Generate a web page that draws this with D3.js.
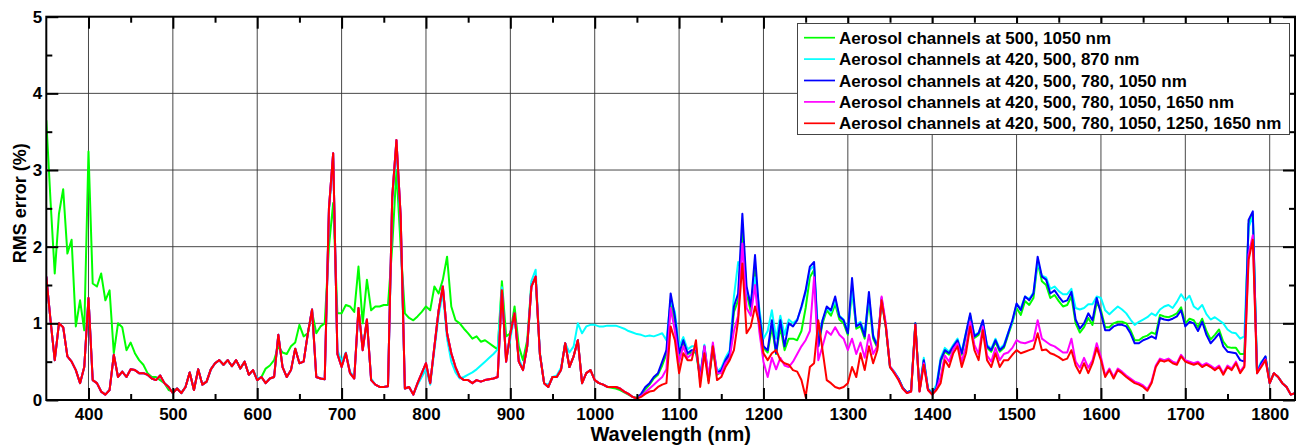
<!DOCTYPE html>
<html>
<head>
<meta charset="utf-8">
<script src="https://cdn.jsdelivr.net/npm/d3@7"></script>
<style>
  body { margin: 0; background: #fff; }
  svg { display: block; }
  text { font-family: "Liberation Sans", Arial, Helvetica, sans-serif; }
</style>
</head>
<body>
<svg id="chart" width="1300" height="445"></svg>
<script>
// Wavelength sampling (nm)
const wavelengths = [
  350,355,360,365,370,375,380,385,390,395, 400,405,410,415,420,425,430,435,440,445,
  450,455,460,465,470,475,480,485,490,495, 500,505,510,515,520,525,530,535,540,545,
  550,555,560,565,570,575,580,585,590,595, 600,605,610,615,620,625,630,635,640,645,
  650,655,660,665,670,675,680,685,690,695, 700,705,710,715,720,725,730,735,740,745,
  750,755,760,765,770,775,780,785,790,795, 800,805,810,815,820,825,830,835,840,845,
  850,855,860,865,870,875,880,885,890,895, 900,905,910,915,920,925,930,935,940,945,
  950,955,960,965,970,975,980,985,990,995, 1000,1005,1010,1015,1020,1025,1030,1035,1040,1045,
  1050,1055,1060,1065,1070,1075,1080,1085,1090,1095, 1100,1105,1110,1115,1120,1125,1130,1135,1140,1145,
  1150,1155,1160,1165,1170,1175,1180,1185,1190,1195, 1200,1205,1210,1215,1220,1225,1230,1235,1240,1245,
  1250,1255,1260,1265,1270,1275,1280,1285,1290,1295, 1300,1305,1310,1315,1320,1325,1330,1335,1340,1345,
  1350,1355,1360,1365,1370,1375,1380,1385,1390,1395, 1400,1405,1410,1415,1420,1425,1430,1435,1440,1445,
  1450,1455,1460,1465,1470,1475,1480,1485,1490,1495, 1500,1505,1510,1515,1520,1525,1530,1535,1540,1545,
  1550,1555,1560,1565,1570,1575,1580,1585,1590,1595, 1600,1605,1610,1615,1620,1625,1630,1635,1640,1645,
  1650,1655,1660,1665,1670,1675,1680,1685,1690,1695, 1700,1705,1710,1715,1720,1725,1730,1735,1740,1745,
  1750,1755,1760,1765,1770,1775,1780,1785,1790,1795, 1800,1805,1810,1815,1820,1825,1830
];

// RMS error (%) — aerosol channels at 500, 1050 nm
const rms500_1050 = [
  3.65,2.6,1.65,2.43,2.75,1.91,2.09,0.96,1.3,0.91, 3.24,1.52,1.48,1.65,1.3,1.43,0.61,1.0,0.95,0.65,
  0.75,0.61,0.52,0.46,0.35,0.3,0.3,0.26,0.22,0.13, 0.11,0.15,0.09,0.17,0.36,0.13,0.4,0.2,0.24,0.4,
  0.48,0.52,0.46,0.52,0.44,0.52,0.41,0.5,0.33,0.39, 0.26,0.3,0.41,0.45,0.52,0.7,0.62,0.6,0.7,0.75,
  0.98,0.83,0.87,1.15,0.87,0.96,1.0,2.0,2.57,1.13, 1.13,1.24,1.22,1.15,1.74,1.0,1.57,1.17,1.22,1.22,
  1.24,1.24,2.0,3.0,2.0,1.13,1.07,1.04,1.09,1.15, 1.22,1.17,1.48,1.39,1.57,1.87,1.22,1.04,1.0,0.93,
  0.87,0.8,0.83,0.76,0.78,0.74,0.7,0.66,1.55,0.83, 0.87,1.22,0.7,0.52,0.78,1.52,1.57,0.6,0.22,0.17,
  0.3,0.3,0.39,0.74,0.43,0.57,0.78,0.22,0.35,0.39, 0.26,0.22,0.2,0.17,0.16,0.15,0.13,0.1,0.07,0.04,
  0.03,0.06,0.14,0.2,0.28,0.33,0.45,0.6,1.3,1.0, 0.58,0.75,0.6,0.62,0.62,0.28,0.68,0.25,0.68,0.33,
  0.37,0.5,0.58,1.15,1.3,2.2,1.4,1.15,1.7,1.05, 0.68,0.62,0.95,0.6,0.95,0.65,0.8,0.8,0.78,0.9,
  1.2,1.6,1.7,0.7,1.0,1.17,1.1,1.25,1.05,1.0, 0.85,1.45,0.93,0.96,0.8,1.3,0.8,0.68,1.3,0.95,
  0.43,0.36,0.28,0.16,0.1,0.12,1.0,0.12,0.52,0.14, 0.08,0.15,0.5,0.63,0.59,0.68,0.76,0.59,0.85,1.1,
  0.81,0.85,1.01,0.68,0.63,0.76,0.63,0.68,0.85,1.01, 1.2,1.11,1.29,1.24,1.33,1.8,1.55,1.5,1.33,1.37,
  1.29,1.22,1.24,1.35,1.0,0.88,0.95,1.07,0.98,1.27, 1.17,0.95,0.95,1.0,1.02,1.02,1.0,0.91,0.78,0.78,
  0.82,0.84,0.88,0.86,1.11,1.09,1.08,1.1,1.13,1.21, 1.0,1.06,1.04,0.95,1.06,0.9,0.79,0.85,0.92,0.76,
  0.69,0.68,0.68,0.6,0.6,2.3,2.42,0.36,0.48,0.56, 0.22,0.35,0.3,0.22,0.17,0.07,0.09
];

// RMS error (%) — aerosol channels at 420, 500, 870 nm
const rms420_500_870 = [
  1.61,1.04,0.52,1.0,0.95,0.57,0.5,0.39,0.22,0.43, 1.33,0.26,0.22,0.11,0.07,0.13,0.59,0.3,0.37,0.3,
  0.4,0.39,0.35,0.35,0.33,0.28,0.26,0.32,0.22,0.17, 0.09,0.15,0.09,0.17,0.36,0.13,0.4,0.2,0.24,0.4,
  0.48,0.52,0.46,0.52,0.44,0.52,0.41,0.5,0.33,0.39, 0.28,0.3,0.22,0.28,0.3,0.85,0.43,0.3,0.39,0.67,
  0.48,0.5,0.87,1.18,0.3,0.28,0.27,2.45,3.15,0.65, 0.5,0.62,0.37,0.3,1.15,0.72,1.0,0.28,0.2,0.17,
  0.17,0.18,2.6,3.3,2.3,0.15,0.17,0.07,0.2,0.3, 0.4,0.2,0.65,1.1,1.4,0.8,0.5,0.36,0.28,0.3,
  0.33,0.36,0.4,0.45,0.5,0.55,0.6,0.66,1.47,0.55, 0.8,1.1,0.55,0.4,0.7,1.55,1.7,0.62,0.22,0.2,
  0.3,0.32,0.42,0.74,0.62,0.7,1.0,0.87,0.96,0.98, 0.98,0.96,0.96,0.97,0.97,0.97,0.95,0.93,0.9,0.88,
  0.86,0.85,0.83,0.84,0.83,0.85,0.87,0.78,1.3,1.15, 0.7,0.82,0.66,0.7,0.7,0.32,0.72,0.28,0.72,0.37,
  0.42,0.55,0.65,1.35,1.8,1.7,1.4,1.3,1.6,1.2, 0.8,0.9,1.17,0.8,1.1,0.85,1.05,1.0,1.05,1.2,
  1.4,1.7,1.75,0.85,1.04,1.2,1.15,1.3,1.1,1.05, 0.9,1.45,0.98,1.02,0.88,1.35,0.85,0.72,1.3,0.97,
  0.44,0.37,0.28,0.16,0.1,0.12,0.98,0.12,0.55,0.15, 0.1,0.2,0.55,0.68,0.63,0.72,0.8,0.63,0.88,1.1,
  0.85,0.88,1.02,0.72,0.67,0.8,0.67,0.72,0.88,1.02, 1.25,1.2,1.35,1.32,1.4,1.8,1.62,1.6,1.45,1.48,
  1.42,1.38,1.38,1.45,1.2,1.18,1.2,1.25,1.25,1.35, 1.33,1.17,1.12,1.17,1.22,1.18,1.13,1.05,0.98,1.02,
  1.05,1.08,1.13,1.1,1.18,1.22,1.24,1.2,1.28,1.38, 1.3,1.36,1.22,1.18,1.24,1.12,1.05,1.08,1.04,1.0,
  0.92,0.88,0.87,0.8,0.83,2.25,2.4,0.38,0.5,0.56, 0.22,0.35,0.3,0.22,0.17,0.07,0.09
];

// RMS error (%) — aerosol channels at 420, 500, 780, 1050 nm
const rms420_500_780_1050 = [
  1.61,1.04,0.52,1.0,0.95,0.57,0.5,0.39,0.22,0.43, 1.33,0.26,0.22,0.11,0.07,0.13,0.59,0.3,0.37,0.3,
  0.4,0.39,0.35,0.35,0.33,0.28,0.26,0.32,0.22,0.17, 0.09,0.15,0.09,0.17,0.36,0.13,0.4,0.2,0.24,0.4,
  0.48,0.52,0.46,0.52,0.44,0.52,0.41,0.5,0.33,0.39, 0.26,0.3,0.22,0.28,0.3,0.85,0.43,0.3,0.39,0.67,
  0.48,0.5,0.87,1.18,0.3,0.28,0.27,2.5,3.22,0.6, 0.43,0.61,0.35,0.28,1.2,0.65,1.05,0.26,0.2,0.17,
  0.17,0.18,2.65,3.39,2.4,0.15,0.17,0.07,0.22,0.35, 0.48,0.22,0.7,1.17,1.48,0.87,0.61,0.43,0.3,0.26,
  0.26,0.22,0.26,0.24,0.26,0.27,0.28,0.3,1.43,0.5, 0.87,1.13,0.5,0.39,0.7,1.48,1.61,0.6,0.22,0.17,
  0.3,0.3,0.39,0.74,0.43,0.57,0.78,0.22,0.35,0.39, 0.26,0.22,0.2,0.17,0.17,0.17,0.15,0.11,0.08,0.04,
  0.02,0.08,0.17,0.22,0.3,0.35,0.5,0.65,1.39,1.09, 0.61,0.78,0.61,0.65,0.65,0.3,0.7,0.26,0.7,0.35,
  0.39,0.52,0.61,1.22,1.39,2.43,1.48,1.22,1.89,1.13, 0.7,0.65,1.04,0.61,1.04,0.7,1.0,0.96,1.04,1.22,
  1.43,1.74,1.8,0.7,1.04,1.22,1.17,1.35,1.09,1.04, 0.87,1.59,0.96,1.0,0.83,1.41,0.83,0.7,1.33,0.96,
  0.43,0.36,0.28,0.16,0.1,0.12,1.0,0.12,0.52,0.14, 0.08,0.16,0.52,0.65,0.61,0.7,0.78,0.61,0.87,1.13,
  0.83,0.87,1.04,0.7,0.65,0.78,0.65,0.7,0.87,1.04, 1.26,1.17,1.35,1.3,1.39,1.87,1.61,1.57,1.39,1.43,
  1.35,1.28,1.3,1.41,1.05,0.93,1.0,1.13,1.04,1.33, 1.13,0.91,0.91,0.96,0.98,0.98,0.96,0.87,0.74,0.74,
  0.78,0.8,0.83,0.8,1.07,1.05,1.04,1.06,1.09,1.17, 0.96,1.02,1.0,0.9,1.02,0.85,0.74,0.8,0.87,0.7,
  0.63,0.62,0.61,0.52,0.5,2.35,2.46,0.35,0.48,0.57, 0.22,0.35,0.3,0.22,0.17,0.07,0.09
];

// RMS error (%) — aerosol channels at 420, 500, 780, 1050, 1650 nm
const rms420_500_780_1050_1650 = [
  1.61,1.04,0.52,1.0,0.95,0.57,0.5,0.39,0.22,0.43, 1.33,0.26,0.22,0.11,0.07,0.13,0.59,0.3,0.37,0.3,
  0.4,0.39,0.35,0.35,0.33,0.28,0.26,0.32,0.22,0.17, 0.09,0.15,0.09,0.17,0.36,0.13,0.4,0.2,0.24,0.4,
  0.48,0.52,0.46,0.52,0.44,0.52,0.41,0.5,0.33,0.39, 0.26,0.3,0.22,0.28,0.3,0.85,0.43,0.3,0.39,0.67,
  0.48,0.5,0.87,1.18,0.3,0.28,0.27,2.5,3.22,0.6, 0.43,0.61,0.35,0.28,1.2,0.65,1.05,0.26,0.2,0.17,
  0.17,0.18,2.65,3.39,2.4,0.15,0.17,0.07,0.22,0.35, 0.48,0.22,0.7,1.17,1.48,0.87,0.61,0.43,0.3,0.26,
  0.26,0.22,0.26,0.24,0.26,0.27,0.28,0.3,1.43,0.5, 0.87,1.13,0.5,0.39,0.7,1.48,1.61,0.6,0.22,0.17,
  0.3,0.3,0.39,0.74,0.43,0.57,0.78,0.22,0.35,0.39, 0.26,0.22,0.2,0.17,0.17,0.17,0.15,0.11,0.08,0.04,
  0.02,0.05,0.1,0.15,0.2,0.25,0.3,0.4,1.2,0.9, 0.5,0.7,0.55,0.6,0.7,0.25,0.7,0.3,0.75,0.35,
  0.35,0.48,0.55,0.9,1.1,2.04,1.2,1.1,1.5,0.9, 0.5,0.3,0.55,0.4,0.55,0.45,0.43,0.5,0.6,0.7,
  0.78,0.9,1.6,0.52,0.7,0.9,0.85,0.95,0.85,0.8, 0.65,0.8,0.6,0.75,0.55,0.85,0.6,0.7,1.35,1.0,
  0.44,0.36,0.27,0.15,0.09,0.11,0.98,0.11,0.48,0.13, 0.07,0.14,0.3,0.58,0.5,0.66,0.74,0.5,0.7,1.02,
  0.72,0.6,0.96,0.58,0.5,0.68,0.52,0.6,0.62,0.68, 0.78,0.75,0.74,0.76,0.78,1.04,0.8,0.76,0.72,0.7,
  0.66,0.62,0.62,0.8,0.5,0.42,0.55,0.42,0.52,0.74, 0.56,0.32,0.41,0.3,0.41,0.37,0.32,0.28,0.24,0.22,
  0.19,0.14,0.24,0.45,0.54,0.52,0.54,0.5,0.48,0.59, 0.52,0.5,0.48,0.5,0.45,0.48,0.45,0.41,0.45,0.35,
  0.45,0.41,0.5,0.37,0.45,1.9,2.15,0.35,0.45,0.53, 0.22,0.35,0.3,0.22,0.17,0.07,0.09
];

// RMS error (%) — aerosol channels at 420, 500, 780, 1050, 1250, 1650 nm
const rms420_500_780_1050_1250_1650 = [
  1.61,1.04,0.52,1.0,0.95,0.57,0.5,0.39,0.22,0.43, 1.33,0.26,0.22,0.11,0.07,0.13,0.59,0.3,0.37,0.3,
  0.4,0.39,0.35,0.35,0.33,0.28,0.26,0.32,0.22,0.17, 0.09,0.15,0.09,0.17,0.36,0.13,0.4,0.2,0.24,0.4,
  0.48,0.52,0.46,0.52,0.44,0.52,0.41,0.5,0.33,0.39, 0.26,0.3,0.22,0.28,0.3,0.85,0.43,0.3,0.39,0.67,
  0.48,0.5,0.87,1.18,0.3,0.28,0.27,2.5,3.22,0.6, 0.43,0.61,0.35,0.28,1.2,0.65,1.05,0.26,0.2,0.17,
  0.17,0.18,2.65,3.39,2.4,0.15,0.17,0.07,0.22,0.35, 0.48,0.22,0.7,1.17,1.48,0.87,0.61,0.43,0.3,0.26,
  0.26,0.22,0.26,0.24,0.26,0.27,0.28,0.3,1.43,0.5, 0.87,1.13,0.5,0.39,0.7,1.48,1.61,0.6,0.22,0.17,
  0.3,0.3,0.39,0.74,0.43,0.57,0.78,0.22,0.35,0.39, 0.26,0.22,0.2,0.17,0.17,0.17,0.15,0.11,0.08,0.04,
  0.02,0.04,0.08,0.11,0.12,0.17,0.2,0.22,0.96,0.78, 0.35,0.61,0.52,0.52,0.78,0.17,0.61,0.22,0.7,0.26,
  0.3,0.43,0.52,0.65,1.04,1.78,0.87,0.96,1.22,1.0, 0.61,0.52,0.61,0.65,0.52,0.48,0.46,0.39,0.37,0.26,
  0.04,0.43,0.48,1.04,0.65,0.26,0.22,0.17,0.15,0.17, 0.22,0.43,0.3,0.61,0.39,0.7,0.48,0.65,1.3,0.96,
  0.43,0.35,0.26,0.15,0.09,0.11,0.98,0.11,0.46,0.13, 0.07,0.13,0.22,0.52,0.43,0.61,0.7,0.43,0.61,0.96,
  0.65,0.52,0.91,0.52,0.43,0.61,0.43,0.52,0.52,0.59, 0.65,0.61,0.63,0.65,0.67,0.87,0.65,0.66,0.61,0.59,
  0.56,0.52,0.54,0.65,0.45,0.35,0.48,0.35,0.48,0.68, 0.52,0.3,0.39,0.28,0.39,0.35,0.3,0.26,0.22,0.2,
  0.17,0.12,0.22,0.43,0.52,0.5,0.52,0.48,0.46,0.57, 0.5,0.48,0.46,0.48,0.43,0.46,0.43,0.39,0.43,0.33,
  0.43,0.39,0.48,0.35,0.43,1.83,2.09,0.35,0.43,0.52, 0.22,0.35,0.3,0.22,0.17,0.07,0.09
];

const seriesLabels = [
  "Aerosol channels at 500, 1050 nm",
  "Aerosol channels at 420, 500, 870 nm",
  "Aerosol channels at 420, 500, 780, 1050 nm",
  "Aerosol channels at 420, 500, 780, 1050, 1650 nm",
  "Aerosol channels at 420, 500, 780, 1050, 1250, 1650 nm"
];
const seriesColors = ["#00ff00", "#00ffff", "#0000ff", "#ff00ff", "#ff0000"];
const seriesValues = [
  rms500_1050, rms420_500_870, rms420_500_780_1050,
  rms420_500_780_1050_1650, rms420_500_780_1050_1250_1650
];

const xMajorTicks = [400, 500, 600, 700, 800, 900, 1000, 1100, 1200, 1300, 1400, 1500, 1600, 1700, 1800];
const xMinorTicks = [450, 550, 650, 750, 850, 950, 1050, 1150, 1250, 1350, 1450, 1550, 1650, 1750];
const yMajorTicks = [0, 1, 2, 3, 4, 5];
const yMinorTicks = [0.5, 1.5, 2.5, 3.5, 4.5];
const xDomain = [350, 1830];
const yDomain = [0, 5];

// ---- layout ----
const svg = d3.select("#chart");
const plot = { left: 46.3, right: 1295, top: 16.7, bottom: 400 };

const x = d3.scaleLinear().domain(xDomain).range([plot.left, plot.right]);
const y = d3.scaleLinear().domain(yDomain).range([plot.bottom, plot.top]);

svg.append("rect").attr("width", 1300).attr("height", 445).attr("fill", "#fff");

svg.append("defs").append("clipPath").attr("id", "plotClip")
  .append("rect")
  .attr("x", plot.left).attr("y", plot.top)
  .attr("width", plot.right - plot.left).attr("height", plot.bottom - plot.top);

// grid
const grid = svg.append("g").attr("stroke", "#333").attr("stroke-width", 0.9);
grid.selectAll("line.v").data(xMajorTicks).join("line")
  .attr("class", "v")
  .attr("x1", d => x(d)).attr("x2", d => x(d))
  .attr("y1", plot.top).attr("y2", plot.bottom);
grid.selectAll("line.h").data([1, 2, 3, 4]).join("line")
  .attr("class", "h")
  .attr("x1", plot.left).attr("x2", plot.right)
  .attr("y1", d => y(d)).attr("y2", d => y(d));

// series lines
const line = d3.line()
  .x((d, i) => x(wavelengths[i]))
  .y(d => y(d));

const lines = svg.append("g").attr("clip-path", "url(#plotClip)");
seriesValues.forEach((vals, k) => {
  lines.append("path")
    .datum(vals)
    .attr("fill", "none")
    .attr("stroke", seriesColors[k])
    .attr("stroke-width", 2)
    .attr("stroke-linejoin", "round")
    .attr("d", line);
});

// axes: inward ticks on all four sides
function styleAxis(g) {
  g.select(".domain").remove();
  g.selectAll(".tick line").attr("stroke", "#000").attr("stroke-width", 2);
  g.selectAll("text")
    .attr("fill", "#000")
    .style("font-size", "17px")
    .style("font-weight", "bold");
}

svg.append("g").attr("transform", `translate(0,${plot.bottom})`)
  .call(d3.axisBottom(x).tickValues(xMajorTicks).tickSize(-12).tickPadding(8).tickFormat(d3.format("d")))
  .call(styleAxis);
svg.append("g").attr("transform", `translate(0,${plot.bottom})`)
  .call(d3.axisBottom(x).tickValues(xMinorTicks).tickSize(-6).tickFormat(""))
  .call(styleAxis);
svg.append("g").attr("transform", `translate(0,${plot.top})`)
  .call(d3.axisTop(x).tickValues(xMajorTicks).tickSize(-12).tickFormat(""))
  .call(styleAxis);
svg.append("g").attr("transform", `translate(0,${plot.top})`)
  .call(d3.axisTop(x).tickValues(xMinorTicks).tickSize(-6).tickFormat(""))
  .call(styleAxis);

svg.append("g").attr("transform", `translate(${plot.left},0)`)
  .call(d3.axisLeft(y).tickValues(yMajorTicks).tickSize(-12).tickPadding(4).tickFormat(d3.format("d")))
  .call(styleAxis);
svg.append("g").attr("transform", `translate(${plot.left},0)`)
  .call(d3.axisLeft(y).tickValues(yMinorTicks).tickSize(-6).tickFormat(""))
  .call(styleAxis);
svg.append("g").attr("transform", `translate(${plot.right},0)`)
  .call(d3.axisRight(y).tickValues(yMajorTicks).tickSize(-12).tickFormat(""))
  .call(styleAxis);
svg.append("g").attr("transform", `translate(${plot.right},0)`)
  .call(d3.axisRight(y).tickValues(yMinorTicks).tickSize(-6).tickFormat(""))
  .call(styleAxis);

// frame
svg.append("rect")
  .attr("x", plot.left).attr("y", plot.top)
  .attr("width", plot.right - plot.left).attr("height", plot.bottom - plot.top)
  .attr("fill", "none").attr("stroke", "#000").attr("stroke-width", 2);

// axis titles
svg.append("text")
  .attr("x", (plot.left + plot.right) / 2).attr("y", 441)
  .attr("text-anchor", "middle")
  .style("font-size", "20px").style("font-weight", "bold")
  .text("Wavelength (nm)");

svg.append("text")
  .attr("transform", `translate(26,${(plot.top + plot.bottom) / 2 - 5}) rotate(-90)`)
  .attr("text-anchor", "middle")
  .style("font-size", "18px").style("font-weight", "bold")
  .text("RMS error (%)");

// legend
const legend = svg.append("g");
legend.append("rect")
  .attr("x", 797.5).attr("y", 23.5).attr("width", 492).attr("height", 111)
  .attr("fill", "#fff").attr("stroke", "#444").attr("stroke-width", 1);
seriesLabels.forEach((label, k) => {
  const cy = 37.7 + k * 21.4;
  legend.append("line")
    .attr("x1", 804).attr("x2", 835).attr("y1", cy).attr("y2", cy)
    .attr("stroke", seriesColors[k]).attr("stroke-width", 1.7);
  legend.append("text")
    .attr("x", 839).attr("y", cy).attr("dy", "0.36em")
    .style("font-size", "17px").style("font-weight", "bold")
    .text(label);
});
</script>
</body>
</html>
